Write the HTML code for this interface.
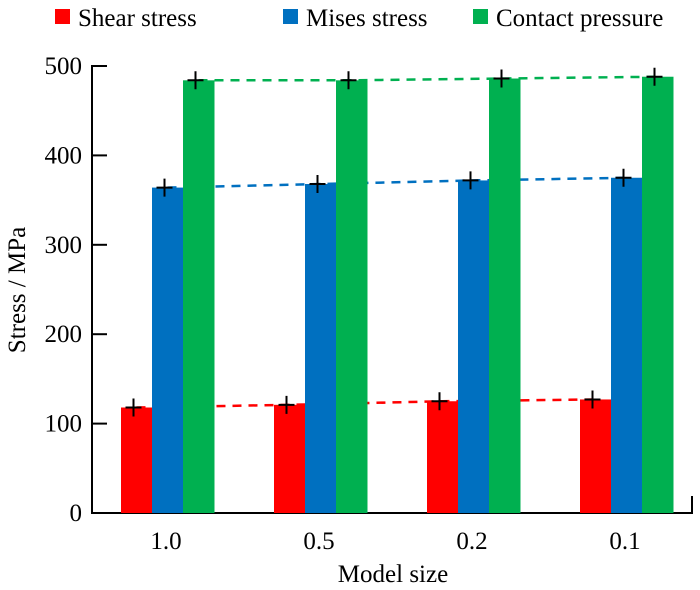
<!DOCTYPE html>
<html><head><meta charset="utf-8"><style>
body{margin:0;background:#fff}
svg{display:block;font-family:"Liberation Serif",serif}
</style></head><body>
<svg id="chart" width="700" height="590" viewBox="0 0 700 590"></svg>
<script>
const categories=["1.0","0.5","0.2","0.1"];
const shear=[118,121,125,127];
const mises=[364,368,372,375];
const contact=[484,484,486,488];
const yTicks=[0,100,200,300,400,500];
const seriesNames=["Shear stress","Mises stress","Contact pressure"];
const colors=["#ff0000","#0070c0","#00b050"];
const ns="http://www.w3.org/2000/svg";
const svg=document.getElementById('chart');
function el(t,a,p){const e=document.createElementNS(ns,t);for(const k in a)e.setAttribute(k,a[k]);(p||svg).appendChild(e);return e;}
const y=v=>513-v*(513-66)/500;
const gx=i=>121+i*153;
const bw=31;
let ax=el('path',{d:'M107 66H92V513H692V496',fill:'none',stroke:'#000','stroke-width':2});


yTicks.forEach(t=>{
 let l=el('line',{x1:92,x2:107,y1:y(t),y2:y(t),stroke:'#000','stroke-width':2});
 
 
 let tx=el('text',{x:82,y:y(t)+8,'text-anchor':'end','font-size':25});
 tx.textContent=t;
 
 
});
const series=[shear,mises,contact];
series.forEach((s,si)=>{
 s.forEach((v,i)=>{
  const x=gx(i)+si*bw;
  let r=el('rect',{x:x,y:y(v),width:bw+0.5,height:513-y(v),fill:colors[si]});
  
  
 });
 let pts=s.map((v,i)=>(gx(i)+si*bw+bw/2)+','+y(v)).join(' ');
 let pl=el('polyline',{points:pts,fill:'none',stroke:colors[si],'stroke-width':2.5,'stroke-dasharray':'9 7'});
 
 
 s.forEach((v,i)=>{
  const cx=gx(i)+si*bw+bw/2-3,cy=y(v);
  let c=el('path',{d:`M${cx-8} ${cy}H${cx+8}M${cx} ${cy-9}V${cy+9}`,stroke:'#000','stroke-width':2});
  
  
 });
});
categories.forEach((c,i)=>{
 let t=el('text',{x:gx(i)+45,y:549,'text-anchor':'middle','font-size':25});
 t.textContent=c;
 
 
});
let xl=el('text',{x:393,y:582,'text-anchor':'middle','font-size':25});
xl.textContent='Model size';


let yl=el('text',{x:0,y:0,'text-anchor':'middle','font-size':25,transform:'translate(25,290) rotate(-90)'});
yl.textContent='Stress / MPa';


const lx=[55,283,473];
seriesNames.forEach((n,i)=>{
 let r=el('rect',{x:lx[i],y:9,width:15,height:15,fill:colors[i]});
 
 
 let t=el('text',{x:lx[i]+23,y:26,'font-size':25});
 t.textContent=n;
 
 
});
</script>
</body></html>
